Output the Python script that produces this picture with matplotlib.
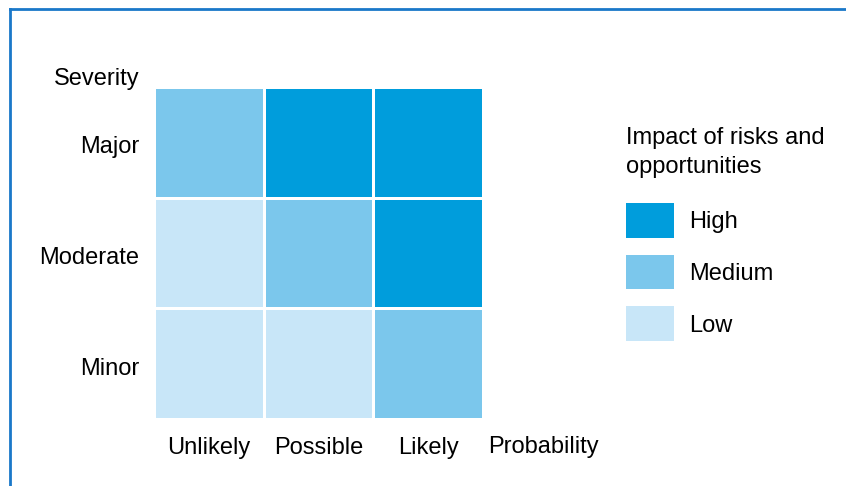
import matplotlib
matplotlib.use('Agg')
import matplotlib.pyplot as plt
from matplotlib.colors import ListedColormap
from matplotlib.patches import Patch
from matplotlib.lines import Line2D
import numpy as np

plt.rcParams['font.family'] = ['Liberation Sans', 'DejaVu Sans']

probability = ['Unlikely', 'Possible', 'Likely']
severity = ['Minor', 'Moderate', 'Major']  # bottom to top
levels = ['Low', 'Medium', 'High']
colors = ['#c8e6f8', '#7bc7ec', '#009ddc']
# impact level per cell (0=Low, 1=Medium, 2=High), rows bottom to top
impact = [
    [0, 0, 1],  # Minor
    [0, 1, 2],  # Moderate
    [1, 2, 2],  # Major
]

W, H = 846, 486
fig = plt.figure(figsize=(W / 100, H / 100), dpi=100)
# grid spans 155..482 x 88..418 px; widened by half the white edge line
ax = fig.add_axes([153.6 / W, (H - 419.4) / H, 329.8 / W, 332.8 / H])

cmap = ListedColormap(colors)
ax.pcolormesh(np.arange(4), np.arange(4), np.array(impact), cmap=cmap,
              vmin=-0.5, vmax=2.5, edgecolors='white', linewidth=2)
ax.set_xlim(0, 3)
ax.set_ylim(0, 3)
for s in ax.spines.values():
    s.set_visible(False)

fs = 17
ax.set_xticks(np.arange(3) + 0.5)
ax.set_xticklabels(probability, fontsize=fs)
ax.set_yticks(np.arange(3) + 0.48)
ax.set_yticklabels(severity, fontsize=fs)
ax.tick_params(length=0)
ax.tick_params(axis='x', pad=12.5)
ax.tick_params(axis='y', pad=10.5)

ax.text(3.543, -0.25, 'Probability', fontsize=fs, ha='center', va='center',
        clip_on=False)
ax.text(-0.515, 3.069, 'Severity', fontsize=fs, ha='center', va='center',
        clip_on=False)

handles = [Patch(facecolor=colors[i], edgecolor='none', label=levels[i])
           for i in [2, 1, 0]]
leg = fig.legend(handles=handles, loc='upper left',
                 bbox_to_anchor=(614 / W, 1 - 115 / H),
                 title='Impact of risks and\nopportunities',
                 fontsize=fs, title_fontsize=fs, frameon=False,
                 handlelength=2.03, handleheight=1.9, labelspacing=0.72,
                 handletextpad=0.64, borderpad=0, alignment='left')
leg.get_title().set_linespacing(1.4)
leg._legend_box.sep = 18

# frame lines along the top and left edge
fig.add_artist(Line2D([9.5 / W, 9.5 / W], [0, 1 - 9.5 / H], color='#1a78c9',
                      linewidth=2))
fig.add_artist(Line2D([9.5 / W, 1], [1 - 9.5 / H, 1 - 9.5 / H], color='#1a78c9',
                      linewidth=2))

fig.savefig('out.png', dpi=100)
